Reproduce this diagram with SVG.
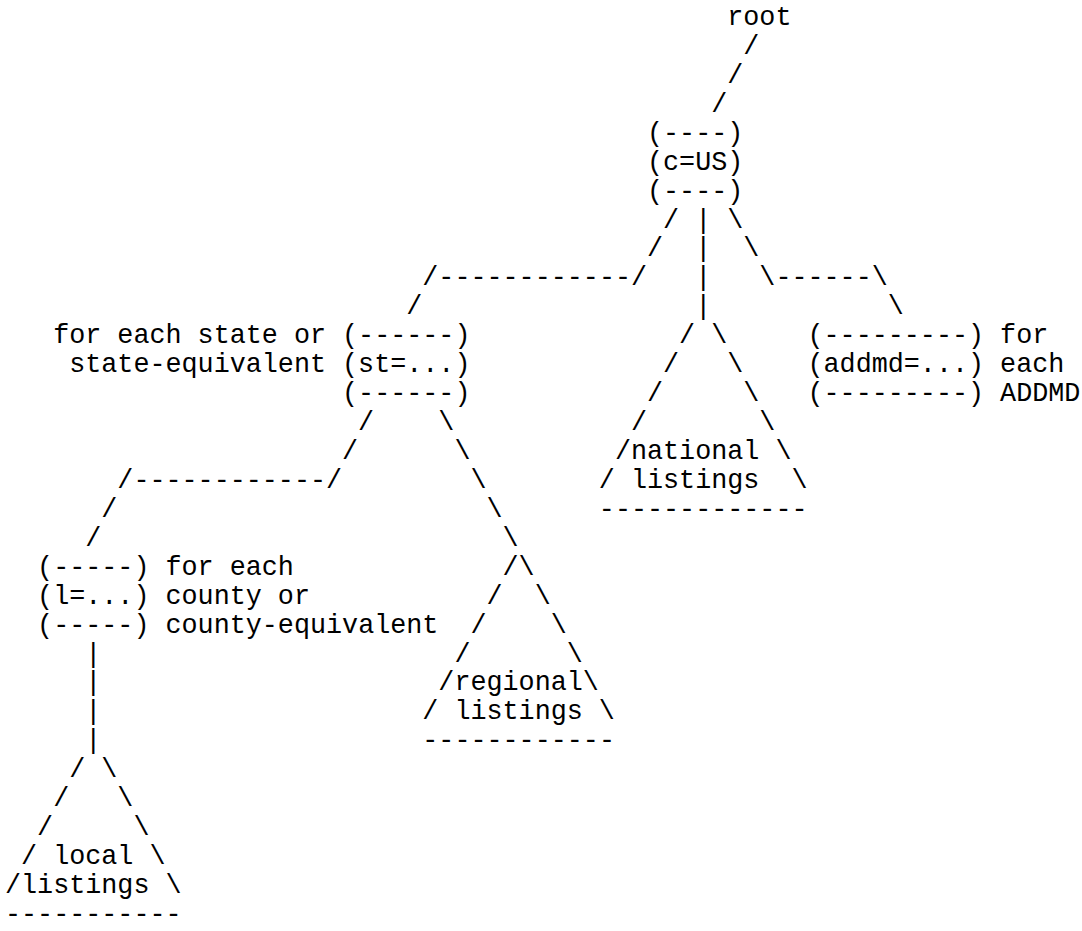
<svg xmlns="http://www.w3.org/2000/svg" width="1082" height="931" viewBox="0 0 1082 931">
<style>
text{font-family:"Liberation Mono","Courier New",monospace;font-size:26.75px;fill:#000}
</style>
<rect width="1082" height="931" fill="#fff"/>
<g id="connectors">
<text x="743.3" y="53.9">/</text>
<text x="727.25" y="82.9">/</text>
<text x="711.2" y="111.8">/</text>
<text x="663.05" y="227.5">/</text><text x="695.15" y="227.5">|</text><text x="727.25" y="227.5">\</text>
<text x="647" y="256.4">/</text><text x="695.15" y="256.4">|</text><text x="743.3" y="256.4">\</text>
<text x="422.3" y="285.4">/------------/</text><text x="695.15" y="285.4">|</text><text x="759.35" y="285.4">\------\</text>
<text x="406.25" y="314.3">/</text><text x="695.15" y="314.3">|</text><text x="887.75" y="314.3">\</text>
<text x="358.1" y="430">/</text><text x="438.35" y="430">\</text>
<text x="342.05" y="459">/</text><text x="454.4" y="459">\</text>
<text x="117.35" y="487.9">/------------/</text><text x="470.45" y="487.9">\</text>
<text x="101.3" y="516.8">/</text><text x="486.5" y="516.8">\</text>
<text x="85.25" y="545.7">/</text><text x="502.55" y="545.7">\</text>
<text x="85.25" y="661.5">|</text>
<text x="85.25" y="690.4">|</text>
<text x="85.25" y="719.3">|</text>
<text x="85.25" y="748.3">|</text>
</g>
<g id="root"><text x="727.25" y="25">root</text></g>
<g id="node-c-us">
<text x="647" y="140.7">(----)</text>
<text x="647" y="169.7">(c=US)</text>
<text x="647" y="198.6">(----)</text>
</g>
<g id="node-st">
<text x="53.15" y="343.2">for each state or</text><text x="342.05" y="343.2">(------)</text>
<text x="69.2" y="372.2">state-equivalent</text><text x="342.05" y="372.2">(st=...)</text>
<text x="342.05" y="401.1">(------)</text>
</g>
<g id="node-addmd">
<text x="807.5" y="343.2">(---------)</text><text x="1000.1" y="343.2">for</text>
<text x="807.5" y="372.2">(addmd=...)</text><text x="1000.1" y="372.2">each</text>
<text x="807.5" y="401.1">(---------)</text><text x="1000.1" y="401.1">ADDMD</text>
</g>
<g id="national-listings">
<text x="679.1" y="343.2">/</text><text x="711.2" y="343.2">\</text>
<text x="663.05" y="372.2">/</text><text x="727.25" y="372.2">\</text>
<text x="647" y="401.1">/</text><text x="743.3" y="401.1">\</text>
<text x="630.95" y="430">/</text><text x="759.35" y="430">\</text>
<text x="614.9" y="459">/national</text><text x="775.4" y="459">\</text>
<text x="598.85" y="487.9">/</text><text x="630.95" y="487.9">listings</text><text x="791.45" y="487.9">\</text>
<text x="598.85" y="516.8">-------------</text>
</g>
<g id="node-l">
<text x="37.1" y="574.7">(-----)</text><text x="165.5" y="574.7">for each</text>
<text x="37.1" y="603.6">(l=...)</text><text x="165.5" y="603.6">county or</text>
<text x="37.1" y="632.5">(-----)</text><text x="165.5" y="632.5">county-equivalent</text>
</g>
<g id="regional-listings">
<text x="502.55" y="574.7">/\</text>
<text x="486.5" y="603.6">/</text><text x="534.65" y="603.6">\</text>
<text x="470.45" y="632.5">/</text><text x="550.7" y="632.5">\</text>
<text x="454.4" y="661.5">/</text><text x="566.75" y="661.5">\</text>
<text x="438.35" y="690.4">/regional\</text>
<text x="422.3" y="719.3">/</text><text x="454.4" y="719.3">listings</text><text x="598.85" y="719.3">\</text>
<text x="422.3" y="748.3">------------</text>
</g>
<g id="local-listings">
<text x="69.2" y="777.2">/</text><text x="101.3" y="777.2">\</text>
<text x="53.15" y="806.1">/</text><text x="117.35" y="806.1">\</text>
<text x="37.1" y="835">/</text><text x="133.4" y="835">\</text>
<text x="21.05" y="864">/</text><text x="53.15" y="864">local</text><text x="149.45" y="864">\</text>
<text x="5" y="892.9">/listings</text><text x="165.5" y="892.9">\</text>
<text x="5" y="921.8">-----------</text>
</g>
</svg>
